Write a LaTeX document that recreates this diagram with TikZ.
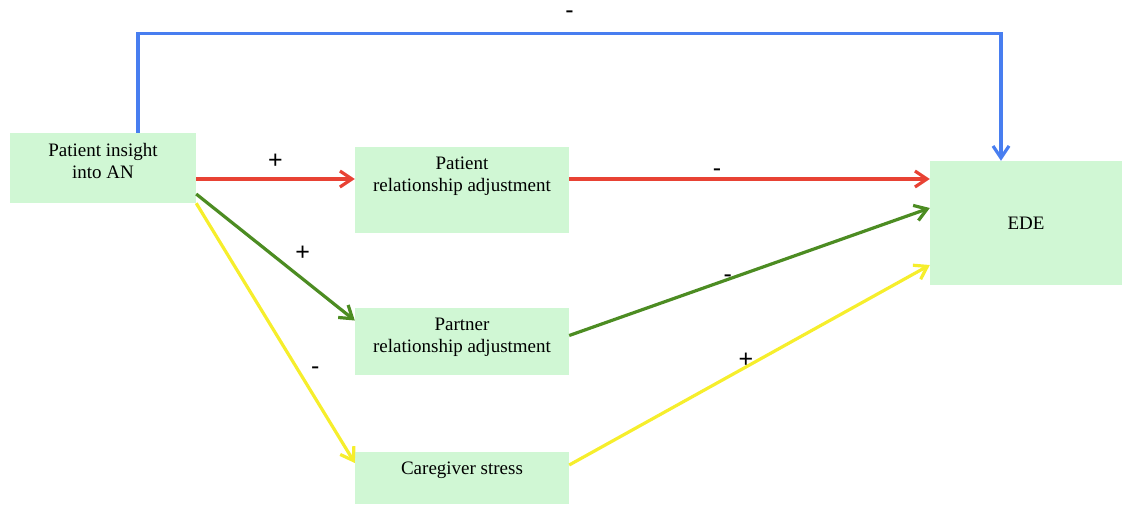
\documentclass[tikz,border=0pt]{standalone}
\usepackage{fontspec}
\setmainfont{Liberation Serif}
\setsansfont{Liberation Sans}
\usetikzlibrary{arrows.meta}
\definecolor{boxgreen}{RGB}{208,247,212}
\definecolor{redline}{RGB}{232,66,52}
\definecolor{greenline}{RGB}{76,140,34}
\definecolor{yellowline}{RGB}{246,238,44}
\definecolor{blueline}{RGB}{72,126,240}
\begin{document}
\begin{tikzpicture}[x=1pt, y=-1pt,
    font=\fontsize{19}{22}\selectfont,
    box/.style={fill=boxgreen, inner sep=0pt, minimum width=214pt},
    txt/.style={anchor=north, yshift=-10pt, align=center, inner sep=0pt},
    link/.style={line width=3.2pt, -{Straight Barb[length=12pt,width=16pt]}},
    sign/.style={text=black, font=\sffamily\fontsize{25}{25}\selectfont, inner sep=1pt}]
  \useasboundingbox (0,0) rectangle (1122,504);
  % boxes
  \node[box, minimum width=186pt, minimum height=70pt] (insight) at (103,168)
    [label={[txt]north:Patient insight\\into AN}] {};
  \node[box, minimum height=86pt] (patadj) at (462,190)
    [label={[txt]north:Patient\\relationship adjustment}] {};
  \node[box, minimum height=67pt] (partadj) at (462,341.5)
    [label={[txt]north:Partner\\relationship adjustment}] {};
  \node[box, minimum height=52pt] (stress) at (462,478)
    [label={[txt]north:Caregiver stress}] {};
  \node[box, minimum width=192pt, minimum height=124pt] (ede) at (1026,223) {EDE};
  % direct path
  \draw[link, blueline] ([xshift=35pt]insight.north) -- ++(0,-99)
    -| node[sign, pos=0.25, above=13pt] {-} ([xshift=-25pt]ede.north);
  % patient adjustment
  \draw[link, redline] ([yshift=-11pt]insight.east) --
    node[sign, above=8pt] {+} ([yshift=11pt]patadj.west);
  \draw[link, redline] ([yshift=11pt]patadj.east) --
    node[sign, pos=0.41, above=0pt] {-} ([yshift=44pt]ede.west);
  % partner adjustment
  \draw[link, greenline] ([yshift=-26pt]insight.east) --
    node[sign, pos=0.47, right=22pt] {+} ([yshift=21pt]partadj.west);
  \draw[link, greenline] ([yshift=6pt]partadj.east) --
    node[sign, pos=0.44, above=-6pt] {-} ([yshift=15pt]ede.west);
  % caregiver stress
  \draw[link, yellowline] (insight.south east) --
    node[sign, pos=0.645, right=10pt] {-} ([yshift=15pt]stress.west);
  \draw[link, yellowline] ([yshift=13pt]stress.east) --
    node[sign, pos=0.49, above=-3pt] {+} ([yshift=-42pt]ede.west);
\end{tikzpicture}
\end{document}
